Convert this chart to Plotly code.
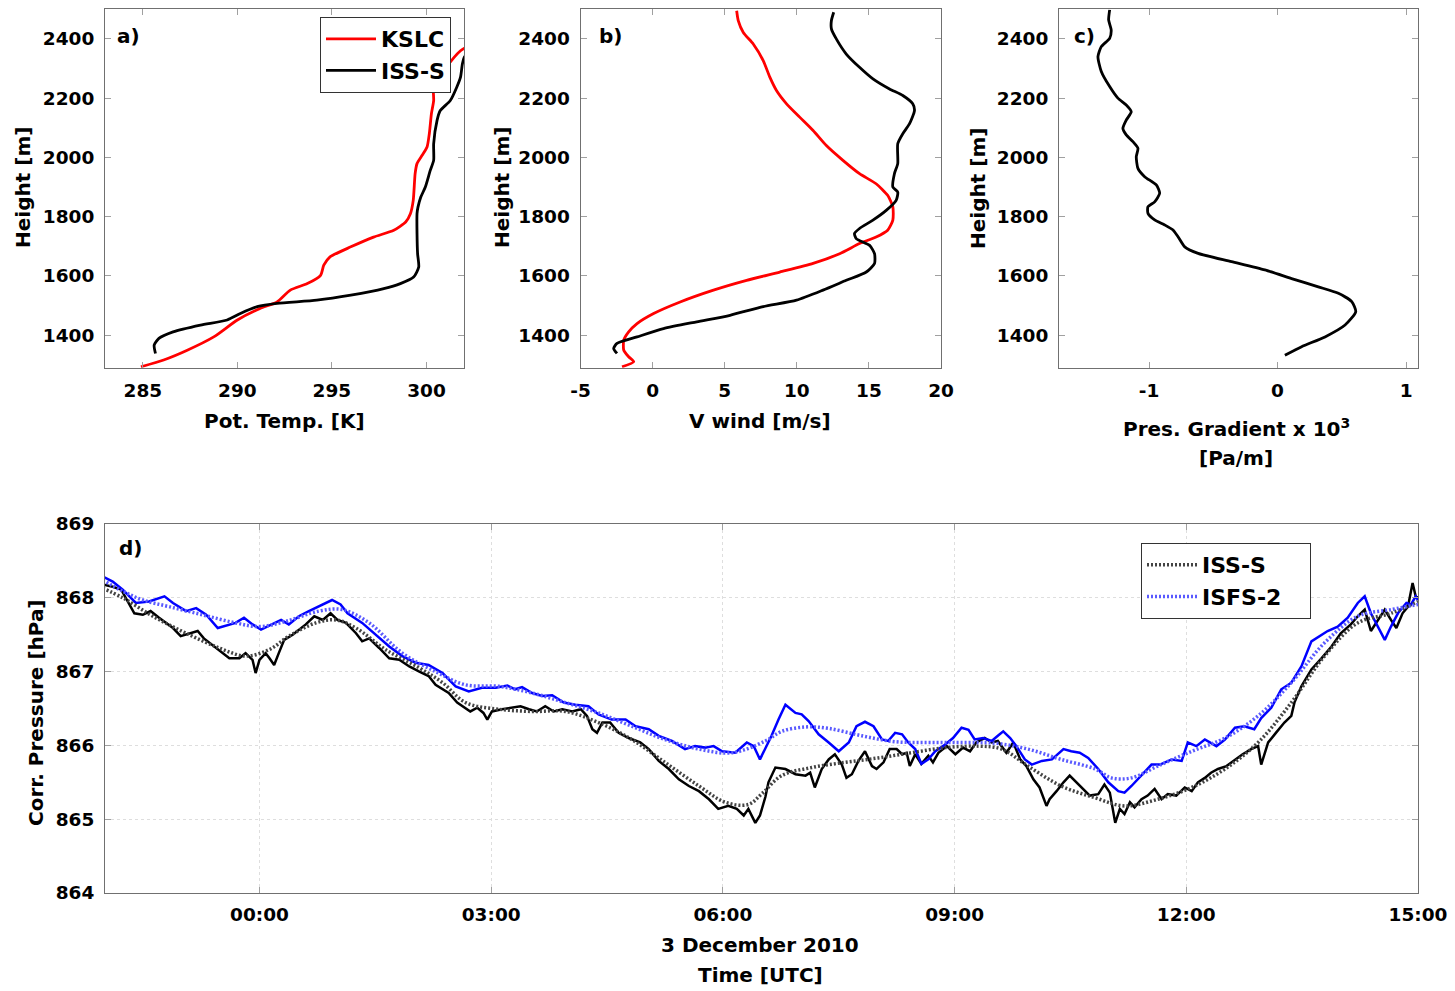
import pandas as pd
import plotly.graph_objects as go

# ---------------- profile data (panels a-c) ----------------
# a) potential temperature [K] vs height [m]
kslc_theta = [284.9, 286.1, 287.35, 288.75, 290.0, 291.2, 292.1, 292.8, 293.7, 294.4, 294.57,
              294.9, 296.0, 297.2, 298.27, 298.9, 299.15, 299.3, 299.4, 299.5, 299.77, 300.03,
              300.15, 300.26, 300.38, 300.38, 301.0, 301.8, 302.5]
kslc_theta_z = [1293, 1316, 1349, 1394, 1451, 1490, 1512, 1552, 1574, 1602, 1636, 1664, 1698,
                1731, 1754, 1782, 1810, 1855, 1945, 1979, 2007, 2035, 2080, 2147, 2192, 2237,
                2300, 2360, 2385]
iss_theta = [285.67, 285.6, 285.85, 286.6, 288.05, 289.46, 290.16, 291.05, 292.1, 294.2, 296.0,
             297.74, 298.62, 299.32, 299.59, 299.53, 299.5, 299.5, 299.55, 299.7, 299.94, 300.2,
             300.38, 300.38, 300.56, 300.73, 301.26, 301.6, 301.8, 301.9, 302.0, 302.3]
iss_theta_z = [1338, 1366, 1389, 1411, 1434, 1451, 1473, 1496, 1507, 1518, 1535, 1557, 1574,
               1596, 1630, 1675, 1743, 1810, 1832, 1866, 1900, 1956, 1990, 2046, 2125, 2158,
               2192, 2237, 2271, 2316, 2338, 2360]

# b) meridional wind [m/s] vs height [m]
kslc_v = [-2.12, -1.31, -1.66, -2.0, -2.0, -1.66, -1.08, 0.07, 1.91, 4.22, 6.52, 8.82, 11.13,
          12.97, 14.35, 15.5, 16.3, 16.66, 16.66, 16.3, 15.5, 14.35, 13.2, 12.05, 11.13, 10.2,
          9.29, 8.59, 8.13, 7.67, 6.98, 6.29, 5.94, 5.83]
kslc_v_z = [1293, 1310, 1327, 1349, 1383, 1411, 1439, 1473, 1512, 1552, 1585, 1613, 1642, 1675,
            1709, 1731, 1754, 1788, 1833, 1872, 1911, 1945, 1990, 2040, 2091, 2136, 2181, 2226,
            2271, 2327, 2383, 2422, 2462, 2495]
iss_v = [-2.47, -2.7, -2.47, -1.08, 0.76, 3.06, 5.37, 7.67, 9.98, 11.82, 13.43, 14.82, 15.39,
         15.39, 15.05, 14.12, 14.0, 14.35, 15.28, 16.2, 16.89, 17.0, 16.66, 16.77, 17.0, 17.0,
         17.35, 17.81, 18.16, 18.04, 17.35, 16.43, 15.28, 14.35, 13.43, 12.74, 12.4, 12.4, 12.56]
iss_v_z = [1338, 1355, 1372, 1394, 1422, 1445, 1467, 1496, 1518, 1552, 1585, 1613, 1642, 1675,
           1703, 1726, 1743, 1760, 1788, 1821, 1855, 1883, 1900, 1945, 1979, 2046, 2080, 2113,
           2158, 2181, 2209, 2231, 2265, 2304, 2349, 2400, 2434, 2462, 2490]

# c) pressure gradient x 1e3 [Pa/m] vs height [m]
pgrad = [0.057, 0.187, 0.369, 0.525, 0.608, 0.577, 0.473, 0.317, 0.109, -0.099, -0.358, -0.618,
         -0.722, -0.774, -0.813, -0.878, -0.956, -1.008, -1.008, -0.956, -0.917, -0.943, -1.034,
         -1.086, -1.099, -1.086, -1.125, -1.177, -1.203, -1.177, -1.138, -1.177, -1.242, -1.306,
         -1.371, -1.397, -1.371, -1.306, -1.294, -1.314, -1.306]
pgrad_z = [1332, 1361, 1394, 1434, 1479, 1513, 1541, 1563, 1591, 1620, 1648, 1676, 1698, 1732,
           1755, 1772, 1789, 1811, 1834, 1850, 1879, 1907, 1935, 1963, 2002, 2031, 2053, 2076,
           2098, 2126, 2154, 2177, 2200, 2239, 2290, 2340, 2374, 2402, 2430, 2464, 2498]

# ---------------- surface pressure time series (panel d) ----------------
# time in hours relative to 3 Dec 2010 00:00 UTC
iss_raw_h = [-2.03, -1.90, -1.79, -1.71, -1.62, -1.51, -1.41, -1.30, -1.21, -1.12, -1.02, -0.91,
             -0.80, -0.72, -0.61, -0.50, -0.39, -0.26, -0.18, -0.09, -0.05, 0.0, 0.08, 0.13, 0.19,
             0.25, 0.32, 0.43, 0.51, 0.60, 0.71, 0.82, 0.92, 1.01, 1.12, 1.25, 1.33, 1.42, 1.55,
             1.68, 1.81, 1.94, 2.07, 2.19, 2.28, 2.37, 2.45, 2.56, 2.65, 2.73, 2.82, 2.90, 2.95,
             3.01, 3.14, 3.27, 3.38, 3.49, 3.59, 3.70, 3.81, 3.92, 4.05, 4.16, 4.24, 4.31, 4.37,
             4.44, 4.54, 4.65, 4.78, 4.93, 5.04, 5.17, 5.30, 5.43, 5.56, 5.69, 5.82, 5.94, 6.07,
             6.18, 6.27, 6.33, 6.42, 6.48, 6.55, 6.59, 6.68, 6.81, 6.94, 7.07, 7.13, 7.19, 7.28,
             7.37, 7.45, 7.54, 7.60, 7.67, 7.755, 7.84, 7.93, 7.99, 8.08, 8.16, 8.25, 8.32, 8.38,
             8.42, 8.49, 8.57, 8.66, 8.72, 8.79, 8.90, 9.01, 9.11, 9.20, 9.28, 9.39, 9.48, 9.56,
             9.67, 9.76, 9.85, 9.93, 10.02, 10.10, 10.19, 10.23, 10.32, 10.41, 10.49, 10.58,
             10.66, 10.75, 10.86, 10.94, 11.01, 11.05, 11.08, 11.14, 11.20, 11.27, 11.33, 11.42,
             11.50, 11.59, 11.68, 11.76, 11.87, 11.98, 12.07, 12.15, 12.24, 12.32, 12.41, 12.52,
             12.63, 12.73, 12.84, 12.93, 12.97, 13.06, 13.16, 13.27, 13.36, 13.40, 13.49, 13.62,
             13.75, 13.88, 14.00, 14.13, 14.22, 14.31, 14.39, 14.48, 14.57, 14.65, 14.72, 14.80,
             14.87, 14.93, 14.97, 15.0]
iss_raw_p = [868.18, 868.15, 868.11, 867.95, 867.79, 867.77, 867.82, 867.73, 867.66, 867.59,
             867.48, 867.52, 867.55, 867.45, 867.36, 867.27, 867.18, 867.18, 867.25, 867.16,
             866.98, 867.16, 867.25, 867.18, 867.09, 867.25, 867.43, 867.50, 867.57, 867.64,
             867.75, 867.70, 867.79, 867.70, 867.66, 867.52, 867.41, 867.45, 867.32, 867.18,
             867.16, 867.07, 867.00, 866.94, 866.82, 866.76, 866.71, 866.58, 866.51, 866.46,
             866.51, 866.44, 866.35, 866.46, 866.49, 866.51, 866.53, 866.49, 866.46, 866.53,
             866.46, 866.49, 866.46, 866.49, 866.40, 866.22, 866.17, 866.31, 866.31, 866.17,
             866.10, 866.04, 865.95, 865.79, 865.68, 865.54, 865.45, 865.38, 865.27, 865.14,
             865.18, 865.14, 865.05, 865.14, 864.95, 865.05, 865.30, 865.50, 865.70, 865.68,
             865.61, 865.59, 865.63, 865.43, 865.68, 865.81, 865.88, 865.74, 865.56, 865.61,
             865.79, 865.92, 865.72, 865.68, 865.77, 865.95, 865.95, 865.88, 865.90, 865.72,
             865.88, 865.75, 865.86, 865.77, 865.90, 865.99, 865.88, 865.97, 865.92, 866.04,
             866.10, 866.04, 866.06, 865.90, 866.04, 865.81, 865.72, 865.54, 865.43, 865.18,
             865.27, 865.38, 865.50, 865.59, 865.50, 865.41, 865.32, 865.34, 865.47, 865.36,
             865.14, 864.95, 865.14, 865.07, 865.23, 865.16, 865.27, 865.32, 865.41, 865.27,
             865.34, 865.32, 865.43, 865.38, 865.50, 865.56, 865.63, 865.68, 865.72, 865.81,
             865.88, 865.95, 865.99, 865.74, 866.04, 866.17, 866.31, 866.40, 866.58, 866.80,
             867.03, 867.18, 867.34, 867.52, 867.64, 867.75, 867.84, 867.55, 867.70, 867.84,
             867.70, 867.59, 867.79, 867.88, 868.20, 868.02, 868.00]

iss_smooth_h = [-2.03, -1.77, -1.38, -0.95, -0.52, -0.18, 0.13, 0.38, 0.73, 0.99, 1.25, 1.63,
                2.07, 2.37, 2.67, 3.10, 3.53, 3.96, 4.39, 4.82, 5.25, 5.69, 6.03, 6.33, 6.51,
                6.76, 7.15, 7.58, 8.01, 8.44, 8.88, 9.31, 9.61, 9.95, 10.38, 10.82, 11.20, 11.63,
                12.07, 12.50, 12.93, 13.36, 13.79, 14.22, 14.65, 15.0]
iss_smooth_p = [868.13, 868.00, 867.75, 867.52, 867.32, 867.21, 867.30, 867.48, 867.66, 867.70,
                867.59, 867.30, 867.05, 866.85, 866.58, 866.49, 866.46, 866.46, 866.31, 866.08,
                865.77, 865.45, 865.23, 865.20, 865.35, 865.59, 865.70, 865.77, 865.83, 865.90,
                865.97, 865.99, 865.95, 865.72, 865.45, 865.29, 865.18, 865.27, 865.43, 865.68,
                866.04, 866.58, 867.21, 867.66, 867.79, 867.95]

isfs_raw_h = [-2.03, -1.90, -1.77, -1.60, -1.43, -1.23, -1.12, -0.95, -0.82, -0.69, -0.54, -0.39,
              -0.31, -0.20, -0.09, 0.02, 0.17, 0.28, 0.38, 0.51, 0.64, 0.82, 0.94, 1.05, 1.14,
              1.33, 1.50, 1.68, 1.85, 2.02, 2.19, 2.37, 2.54, 2.71, 2.88, 3.06, 3.21, 3.31, 3.40,
              3.53, 3.66, 3.79, 3.94, 4.09, 4.26, 4.39, 4.56, 4.74, 4.87, 5.04, 5.17, 5.34, 5.51,
              5.64, 5.77, 5.88, 5.99, 6.16, 6.31, 6.40, 6.48, 6.63, 6.72, 6.81, 6.94, 7.02, 7.11,
              7.24, 7.37, 7.50, 7.63, 7.73, 7.84, 7.95, 8.06, 8.14, 8.23, 8.32, 8.40, 8.49, 8.57,
              8.66, 8.75, 8.85, 8.98, 9.09, 9.18, 9.26, 9.37, 9.48, 9.56, 9.63, 9.72, 9.80, 9.91,
              10.00, 10.13, 10.26, 10.41, 10.51, 10.62, 10.73, 10.86, 10.99, 11.12, 11.20, 11.29,
              11.42, 11.55, 11.66, 11.81, 11.94, 12.02, 12.13, 12.24, 12.39, 12.50, 12.63, 12.75,
              12.88, 12.97, 13.10, 13.23, 13.36, 13.49, 13.62, 13.75, 13.83, 13.96, 14.09, 14.22,
              14.31, 14.39, 14.48, 14.57, 14.65, 14.74, 14.85, 14.91, 14.97, 15.0]
isfs_raw_p = [868.29, 868.22, 868.11, 867.93, 867.95, 868.02, 867.93, 867.82, 867.86, 867.77,
              867.59, 867.64, 867.66, 867.73, 867.64, 867.57, 867.64, 867.70, 867.64, 867.75,
              867.82, 867.91, 867.97, 867.91, 867.79, 867.66, 867.50, 867.34, 867.21, 867.12,
              867.09, 866.98, 866.80, 866.73, 866.78, 866.78, 866.81, 866.76, 866.79, 866.71,
              866.67, 866.68, 866.58, 866.55, 866.53, 866.42, 866.35, 866.35, 866.26, 866.22,
              866.13, 866.06, 865.95, 865.99, 865.97, 865.99, 865.92, 865.90, 866.04, 865.99,
              865.81, 866.13, 866.35, 866.55, 866.44, 866.42, 866.33, 866.15, 866.04, 865.92,
              866.04, 866.26, 866.32, 866.26, 866.08, 866.06, 866.17, 866.15, 866.04, 865.95,
              865.75, 865.81, 865.92, 865.99, 866.10, 866.24, 866.21, 866.08, 866.10, 866.06,
              866.13, 866.19, 866.10, 865.99, 865.81, 865.74, 865.79, 865.81, 865.95, 865.92,
              865.90, 865.83, 865.68, 865.50, 865.38, 865.36, 865.45, 865.59, 865.74, 865.74,
              865.81, 865.79, 866.04, 865.99, 866.08, 865.99, 866.08, 866.24, 866.26, 866.22,
              866.37, 866.51, 866.76, 866.85, 867.07, 867.41, 867.50, 867.55, 867.61, 867.73,
              867.93, 868.02, 867.79, 867.61, 867.43, 867.61, 867.79, 867.93, 867.91, 868.02,
              867.97]

isfs_smooth_h = [-2.03, -1.77, -1.51, -1.17, -0.74, -0.31, 0.0, 0.34, 0.77, 1.07, 1.42, 1.85,
                 2.28, 2.67, 3.10, 3.53, 3.96, 4.39, 4.82, 5.25, 5.69, 6.12, 6.55, 6.76, 7.07,
                 7.37, 7.80, 8.23, 8.66, 9.09, 9.52, 9.95, 10.38, 10.82, 11.03, 11.29, 11.63,
                 12.07, 12.50, 12.93, 13.36, 13.79, 14.22, 14.65, 15.0]
isfs_smooth_p = [868.24, 868.09, 867.97, 867.88, 867.77, 867.66, 867.61, 867.68, 867.82, 867.84,
                 867.66, 867.25, 867.00, 866.82, 866.80, 866.71, 866.58, 866.44, 866.26, 866.08,
                 865.95, 865.90, 866.06, 866.19, 866.25, 866.23, 866.13, 866.05, 866.04, 866.04,
                 866.03, 865.95, 865.81, 865.68, 865.56, 865.56, 865.72, 865.92, 866.10, 866.40,
                 866.85, 867.39, 867.75, 867.84, 867.91]

# ---------------- figure layout helpers ----------------
W, H = 1455, 991
FONT = "DejaVu Sans"
BASE = pd.Timestamp("2010-12-03 00:00")
PAD = "\u00a0\u00a0\u00a0"  # right padding inside the time-series legend box


def to_time(hours):
    return BASE + pd.to_timedelta(hours, unit="h")


def fx(x):
    return x / W


def fy(y):
    return 1 - y / H


fig = go.Figure()

# panel a
fig.add_trace(go.Scatter(x=kslc_theta, y=kslc_theta_z, mode="lines", name="KSLC",
                         line=dict(color="#ff0000", width=2.8, shape="spline", smoothing=0.6),
                         xaxis="x", yaxis="y", legend="legend"))
fig.add_trace(go.Scatter(x=iss_theta, y=iss_theta_z, mode="lines", name="ISS-S",
                         line=dict(color="#000000", width=2.8, shape="spline", smoothing=0.6),
                         xaxis="x", yaxis="y", legend="legend"))
# panel b
fig.add_trace(go.Scatter(x=kslc_v, y=kslc_v_z, mode="lines", showlegend=False,
                         line=dict(color="#ff0000", width=2.8, shape="spline", smoothing=0.6),
                         xaxis="x2", yaxis="y2"))
fig.add_trace(go.Scatter(x=iss_v, y=iss_v_z, mode="lines", showlegend=False,
                         line=dict(color="#000000", width=2.8, shape="spline", smoothing=0.6),
                         xaxis="x2", yaxis="y2"))
# panel c
fig.add_trace(go.Scatter(x=pgrad, y=pgrad_z, mode="lines", showlegend=False,
                         line=dict(color="#000000", width=2.8, shape="spline", smoothing=0.6),
                         xaxis="x3", yaxis="y3"))
# panel d: raw series then smoothed (dotted) series
fig.add_trace(go.Scatter(x=to_time(iss_raw_h), y=iss_raw_p, mode="lines", showlegend=False,
                         line=dict(color="#000000", width=2.5), xaxis="x4", yaxis="y4"))
fig.add_trace(go.Scatter(x=to_time(isfs_raw_h), y=isfs_raw_p, mode="lines", showlegend=False,
                         line=dict(color="#0000ff", width=2.5), xaxis="x4", yaxis="y4"))
fig.add_trace(go.Scatter(x=to_time(iss_smooth_h), y=iss_smooth_p, mode="lines",
                         name="ISS-S" + PAD,
                         line=dict(color="#444444", width=3.5, dash="2px,2px", shape="spline"),
                         xaxis="x4", yaxis="y4", legend="legend2"))
fig.add_trace(go.Scatter(x=to_time(isfs_smooth_h), y=isfs_smooth_p, mode="lines",
                         name="ISFS-2" + PAD,
                         line=dict(color="#5a5aff", width=3.5, dash="2px,2px", shape="spline"),
                         xaxis="x4", yaxis="y4", legend="legend2"))

tickfont = dict(family=FONT, size=18.5, color="black", weight="bold")
common = dict(showline=True, linecolor="#707070", linewidth=1, mirror="ticks",
              ticks="inside", ticklen=6, tickwidth=1, tickcolor="#a0a0a0",
              tickfont=tickfont, showgrid=False, zeroline=False, automargin=False)

ya = dict(range=[1290, 2500], tickvals=[1400, 1600, 1800, 2000, 2200, 2400],
          domain=[fy(367.7), fy(9.3)], ticklabelstandoff=6, **common)
grid = {"showgrid": True, "gridcolor": "#dedede", "griddash": "dot", "gridwidth": 1}
legend_font = dict(family=FONT, size=22, color="black", weight="bold")

fig.update_layout(
    width=W, height=H, autosize=False,
    margin=dict(l=0, r=0, t=0, b=0, autoexpand=False),
    paper_bgcolor="white", plot_bgcolor="white",
    xaxis=dict(range=[283, 302], tickvals=[285, 290, 295, 300], domain=[fx(105), fx(464.3)],
               anchor="y", ticklabelstandoff=6, **common),
    yaxis=dict(anchor="x", **ya),
    xaxis2=dict(range=[-5, 20], tickvals=[-5, 0, 5, 10, 15, 20],
                ticktext=["-5", "0", "5", "10", "15", "20"],
                domain=[fx(580.5), fx(941)], anchor="y2", ticklabelstandoff=6, **common),
    yaxis2=dict(anchor="x2", **ya),
    xaxis3=dict(range=[-1.7, 1.09], tickvals=[-1, 0, 1], ticktext=["-1", "0", "1"],
                domain=[fx(1059), fx(1417.7)], anchor="y3", ticklabelstandoff=6, **common),
    yaxis3=dict(anchor="x3", **ya),
    xaxis4=dict(type="date", range=["2010-12-02 22:00", "2010-12-03 15:00"],
                tick0="2010-12-03 00:00", dtick=3 * 3600 * 1000, tickformat="%H:%M",
                domain=[fx(105), fx(1418)], anchor="y4", ticklabelstandoff=5,
                **{**common, **grid}),
    yaxis4=dict(range=[864, 869], tickvals=[864, 865, 866, 867, 868, 869],
                domain=[fy(893), fy(524)], anchor="x4", ticklabelstandoff=6,
                **{**common, **grid}),
    legend=dict(x=fx(320), y=fy(17), xanchor="left", yanchor="top",
                bgcolor="white", bordercolor="#333333", borderwidth=1,
                font=legend_font, tracegroupgap=0, itemwidth=50),
    legend2=dict(x=fx(1141), y=fy(543), xanchor="left", yanchor="top",
                 bgcolor="white", bordercolor="#333333", borderwidth=1,
                 font=legend_font, tracegroupgap=0, itemwidth=50),
    showlegend=True,
)

lab = dict(family=FONT, size=20, color="black", weight="bold")
annotations = [
    # panel tags
    dict(x=fx(115), y=fy(36), text="a)", xanchor="left"),
    dict(x=fx(597), y=fy(36), text="b)", xanchor="left"),
    dict(x=fx(1072), y=fy(36), text="c)", xanchor="left"),
    dict(x=fx(117), y=fy(548), text="d)", xanchor="left"),
    # x axis titles
    dict(x=fx(284), y=fy(421), text="Pot. Temp. [K]"),
    dict(x=fx(760), y=fy(421), text="V wind [m/s]"),
    dict(x=fx(1236), y=fy(428), text="Pres. Gradient x 10<sup>3</sup>"),
    dict(x=fx(1236), y=fy(458), text="[Pa/m]"),
    dict(x=fx(760), y=fy(945), text="3 December 2010"),
    dict(x=fx(760), y=fy(975), text="Time [UTC]"),
    # y axis titles
    dict(x=fx(23), y=fy(188), text="Height [m]", textangle=-90),
    dict(x=fx(502), y=fy(188), text="Height [m]", textangle=-90),
    dict(x=fx(978), y=fy(189), text="Height [m]", textangle=-90),
    dict(x=fx(36), y=fy(713), text="Corr. Pressure [hPa]", textangle=-90),
]
for a in annotations:
    a.setdefault("xanchor", "center")
    a.update(xref="paper", yref="paper", yanchor="middle", showarrow=False, font=lab)
fig.update_layout(annotations=annotations)

fig.write_html("out.html")
